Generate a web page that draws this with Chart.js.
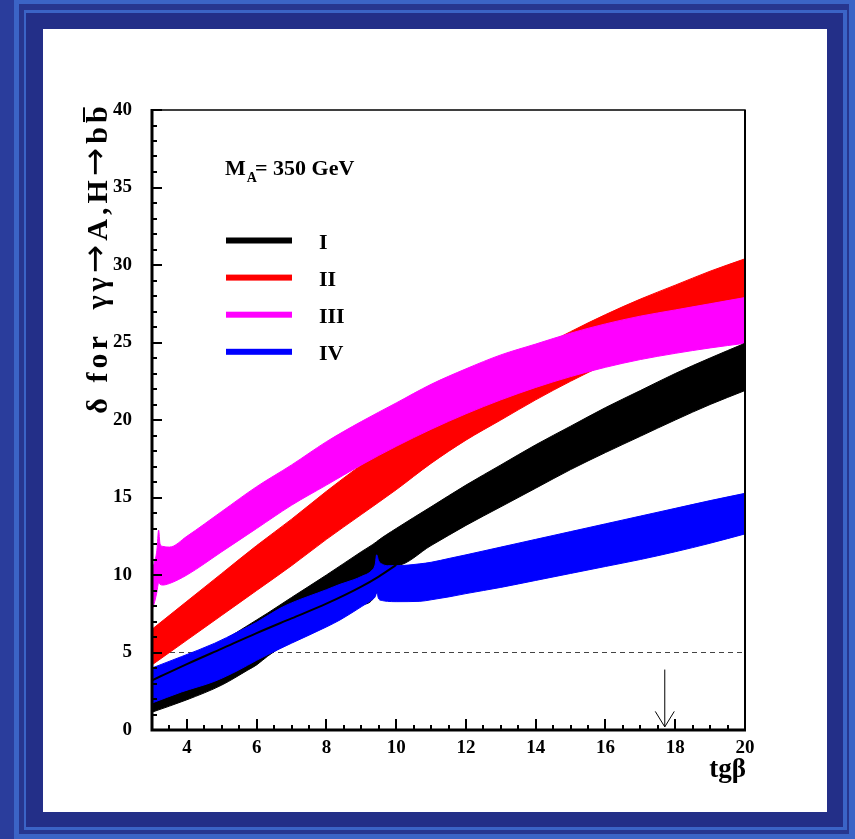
<!DOCTYPE html>
<html><head><meta charset="utf-8">
<script src="https://cdn.jsdelivr.net/npm/chart.js@4.4.0/dist/chart.umd.min.js"></script>
<style>
html,body{margin:0;padding:0;width:855px;height:839px;overflow:hidden;background:#2a3d9c;}
.r{position:absolute;}
</style></head><body>
<div class="r" style="left:14px;top:0;width:841px;height:839px;background:#3b64c6"></div>
<div class="r" style="left:19px;top:4px;width:830px;height:830px;background:#27368f"></div>
<div class="r" style="left:24px;top:10px;width:823px;height:820px;background:#3b64c6"></div>
<div class="r" style="left:26px;top:13px;width:817px;height:814px;background:#232f88"></div>
<div class="r" style="left:43px;top:29px;width:784px;height:783px;background:#ffffff"></div>
<canvas id="c" width="855" height="839" style="position:absolute;left:0;top:0"></canvas>
<script>
// ---------- data ----------
const xTicks = [4, 6, 8, 10, 12, 14, 16, 18, 20];
const yTicks = [0, 5, 10, 15, 20, 25, 30, 35, 40];
const seriesNames = ['I', 'II', 'III', 'IV'];
const seriesColors = ['#000000', '#ff0000', '#ff00ff', '#0000ff'];
const massLabel = 'M';
const massSub = 'A';
const massValue = '= 350 GeV';
const xTitle = 'tgβ';
// y title pieces: [text, isArrow, hasOverline]
const yTitleParts = [['δ for  γγ', false, false], ['→', true, false], ['A,H', false, false], ['→', true, false], ['b', false, false], ['b', false, true]];
const thresholdY = 5;
const arrowX = 17.7;
const arrowFromY = 3.9;
const arrowToY = 0.2;

// Band I (black)
const bandI_x     = [3, 4, 5, 5.75, 6, 6.32, 7, 8, 9, 9.44, 9.45, 10, 11, 12, 13, 14, 15, 16, 17, 18, 19, 20];
const bandI_upper = [3.0, 4.3, 5.7, 6.75, 7.1, 7.55, 8.55, 10.0, 11.5, 12.15, 12.17, 13.0, 14.4, 15.8, 17.1, 18.4, 19.6, 20.8, 21.9, 23.0, 24.0, 24.95];
const bandI_lower = [1.15, 1.95, 2.9, 3.87, 4.2, 4.77, 5.75, 6.8, 8.1, 8.9, 9.85, 10.6, 11.9, 13.2, 14.4, 15.6, 16.8, 17.9, 18.95, 20.0, 21.0, 21.9];
// thin curve inside band IV
const lineI_x = [3, 4, 5, 6, 7, 8, 9, 9.5, 10];
const lineI_y = [3.2, 4.25, 5.25, 6.25, 7.2, 8.15, 9.25, 9.9, 10.65];

// Band II (red)
const bandII_x     = [3, 4, 5, 6, 7, 8, 9, 10, 11, 12, 13, 14, 15, 16, 17, 18, 19, 20];
const bandII_upper = [6.5, 8.3, 10.1, 11.9, 13.6, 15.4, 17.1, 18.7, 20.2, 21.7, 23.1, 24.5, 25.7, 26.8, 27.8, 28.7, 29.6, 30.4];
const bandII_lower = [4.2, 5.8, 7.4, 9.0, 10.6, 12.3, 13.9, 15.5, 17.2, 18.7, 20.0, 21.3, 22.5, 23.6, 24.6, 25.6, 26.5, 27.4];

// Band III (magenta)
const bandIII_x     = [3.0, 3.08, 3.14, 3.19, 3.23, 3.3, 3.5, 4, 5, 6, 7, 8, 9, 10, 11, 12, 13, 14, 15, 16, 17, 18, 19, 20];
const bandIII_upper = [10.3, 10.9, 11.6, 12.9, 12.0, 11.85, 11.8, 12.5, 14.1, 15.7, 17.1, 18.6, 19.9, 21.1, 22.3, 23.3, 24.2, 24.9, 25.6, 26.2, 26.7, 27.1, 27.5, 27.9];
const bandIII_lower = [7.7, 8.3, 8.9, 9.5, 9.4, 9.35, 9.45, 10.0, 11.5, 13.0, 14.5, 15.8, 17.1, 18.3, 19.4, 20.4, 21.3, 22.1, 22.8, 23.4, 23.9, 24.3, 24.65, 24.95];

// Band IV (blue)
const bandIV_x     = [3, 3.84, 4.8, 5.47, 6, 6.67, 7, 8, 8.39, 8.79, 9.0, 9.3, 9.4, 9.44, 9.5, 9.6, 9.75, 10, 10.68, 11, 11.54, 12, 13, 14, 15, 16, 17, 18, 19, 20];
const bandIV_upper = [4.0, 4.73, 5.6, 6.34, 6.95, 7.85, 8.2, 9.05, 9.4, 9.7, 9.9, 10.3, 10.7, 11.3, 10.9, 10.7, 10.6, 10.6, 10.72, 10.82, 11.08, 11.3, 11.8, 12.3, 12.8, 13.3, 13.8, 14.3, 14.8, 15.27];
const bandIV_lower = [1.74, 2.45, 3.15, 3.85, 4.5, 5.25, 5.6, 6.65, 7.1, 7.65, 7.95, 8.4, 8.6, 8.85, 8.45, 8.35, 8.3, 8.28, 8.3, 8.4, 8.6, 8.8, 9.2, 9.65, 10.1, 10.55, 11.0, 11.5, 12.05, 12.65];

// ---------- build ----------
const pts = (xs, ys) => xs.map((x, i) => ({x: x, y: ys[i]}));
const FONT = 'Liberation Serif';

function bandSets(name, xs, up, lo, color) {
  return [
    {label: name, data: pts(xs, up), borderColor: color, backgroundColor: color, borderWidth: 1, fill: '+1'},
    {label: name + ' low', data: pts(xs, lo), borderColor: color, backgroundColor: color, borderWidth: 1, fill: false}
  ];
}

const datasets = [
  {label: 'I line', data: pts(lineI_x, lineI_y), borderColor: '#000', borderWidth: 2, fill: false},
  ...bandSets('IV', bandIV_x, bandIV_upper, bandIV_lower, seriesColors[3]),
  ...bandSets('I', bandI_x, bandI_upper, bandI_lower, seriesColors[0]),
  ...bandSets('III', bandIII_x, bandIII_upper, bandIII_lower, seriesColors[2]),
  ...bandSets('II', bandII_x, bandII_upper, bandII_lower, seriesColors[1]),
  {label: 'threshold', data: [{x: 3, y: thresholdY}, {x: 20, y: thresholdY}], borderColor: '#444', borderWidth: 1, borderDash: [5, 4], fill: false}
];

const deco = {
  id: 'deco',
  afterDatasetsDraw(chart) {
    const {ctx, chartArea: a, scales} = chart;
    const sx = scales.x, sy = scales.y;
    ctx.save();
    ctx.strokeStyle = '#000';
    ctx.lineWidth = 2;
    ctx.beginPath();
    for (let v = sy.min; v <= sy.max; v += 1) {
      const p = Math.round(sy.getPixelForValue(v));
      const len = (v % 5 === 0) ? 10 : 5;
      ctx.moveTo(a.left, p); ctx.lineTo(a.left + len, p);
    }
    for (let v = sx.min; v <= sx.max + 1e-9; v += 0.5) {
      const p = Math.round(sx.getPixelForValue(v));
      const len = (Math.abs(v % 2) < 1e-9) ? 11 : 5;
      ctx.moveTo(p, a.bottom); ctx.lineTo(p, a.bottom - len);
    }
    ctx.stroke();
    ctx.lineWidth = 1.5;
    ctx.strokeRect(a.left, a.top, a.right - a.left, a.bottom - a.top);
    ctx.lineWidth = 3;
    ctx.beginPath();
    ctx.moveTo(a.left, a.top - 1); ctx.lineTo(a.left, a.bottom); ctx.lineTo(a.right + 1, a.bottom);
    ctx.stroke();
    ctx.lineWidth = 2;
    ctx.beginPath(); ctx.moveTo(a.right, a.top); ctx.lineTo(a.right, a.bottom); ctx.stroke();
    const ax = sx.getPixelForValue(arrowX);
    const ay0 = sy.getPixelForValue(arrowFromY);
    const ay1 = sy.getPixelForValue(arrowToY);
    ctx.lineWidth = 1;
    ctx.beginPath();
    ctx.moveTo(ax, ay0); ctx.lineTo(ax, ay1);
    ctx.moveTo(ax - 9.5, ay1 - 15.5); ctx.lineTo(ax, ay1); ctx.lineTo(ax + 9.5, ay1 - 15.5);
    ctx.stroke();
    ctx.restore();
  },
  afterDraw(chart) {
    const {ctx, chartArea: a} = chart;
    ctx.save();
    ctx.fillStyle = '#000';
    ctx.textBaseline = 'alphabetic';
    ctx.textAlign = 'left';
    ctx.font = 'bold 22px "' + FONT + '"';
    ctx.fillText(massLabel, 225, 175);
    const mw = ctx.measureText(massLabel).width;
    ctx.font = 'bold 14px "' + FONT + '"';
    ctx.fillText(massSub, 225 + mw + 1, 182);
    ctx.font = 'bold 22px "' + FONT + '"';
    ctx.fillText(massValue, 255, 175);
    seriesNames.forEach((name, i) => {
      const yc = 240.5 + i * 37.1;
      ctx.fillStyle = seriesColors[i];
      ctx.fillRect(226, yc - 3, 66, 6);
      ctx.fillStyle = '#000';
      ctx.font = 'bold 22px "' + FONT + '"';
      ctx.fillText(name, 319, yc + 8.5);
    });
    ctx.font = 'bold 27px "' + FONT + '"';
    ctx.textAlign = 'right';
    ctx.fillText(xTitle, a.right + 1, 777);
    // y title (rotated), drawn piecewise
    ctx.translate(107, 258);
    ctx.rotate(-Math.PI / 2);
    ctx.textAlign = 'left';
    ctx.letterSpacing = '4px';
    const fontFor = p => p[1] ? '34px "DejaVu Sans"' : 'bold 30px "' + FONT + '"';
    const widths = yTitleParts.map(p => { ctx.font = fontFor(p); return ctx.measureText(p[0]).width; });
    const total = widths.reduce((s, w) => s + w, 0);
    let cx = -total / 2;
    yTitleParts.forEach((p, i) => {
      ctx.font = fontFor(p);
      ctx.fillText(p[0], cx, p[1] ? -1 : 0);
      if (p[2]) ctx.fillRect(cx + 1, -24, widths[i] - 6, 2);
      cx += widths[i];
    });
    ctx.restore();
  }
};

new Chart(document.getElementById('c'), {
  type: 'line',
  data: {datasets: datasets},
  options: {
    responsive: false,
    animation: false,
    devicePixelRatio: 1,
    layout: {padding: {top: 110, right: 110, left: 0, bottom: 0}},
    plugins: {legend: {display: false}, tooltip: {enabled: false}, title: {display: false}},
    elements: {point: {radius: 0, hoverRadius: 0}, line: {cubicInterpolationMode: 'monotone'}},
    events: [],
    scales: {
      x: {
        type: 'linear', min: 3, max: 20,
        grid: {display: false, drawTicks: false}, border: {display: false},
        afterBuildTicks: s => { s.ticks = xTicks.map(v => ({value: v})); },
        afterFit: s => { s.height = 109; },
        ticks: {font: {family: FONT, weight: 'bold', size: 19}, color: '#000', padding: 7, maxRotation: 0, autoSkip: false}
      },
      y: {
        type: 'linear', min: 0, max: 40,
        grid: {display: false, drawTicks: false}, border: {display: false},
        afterBuildTicks: s => { s.ticks = yTicks.map(v => ({value: v})); },
        afterFit: s => { s.width = 152; },
        ticks: {font: {family: FONT, weight: 'bold', size: 19}, color: '#000', padding: 20, autoSkip: false}
      }
    }
  },
  plugins: [deco]
});
</script>
</body></html>
